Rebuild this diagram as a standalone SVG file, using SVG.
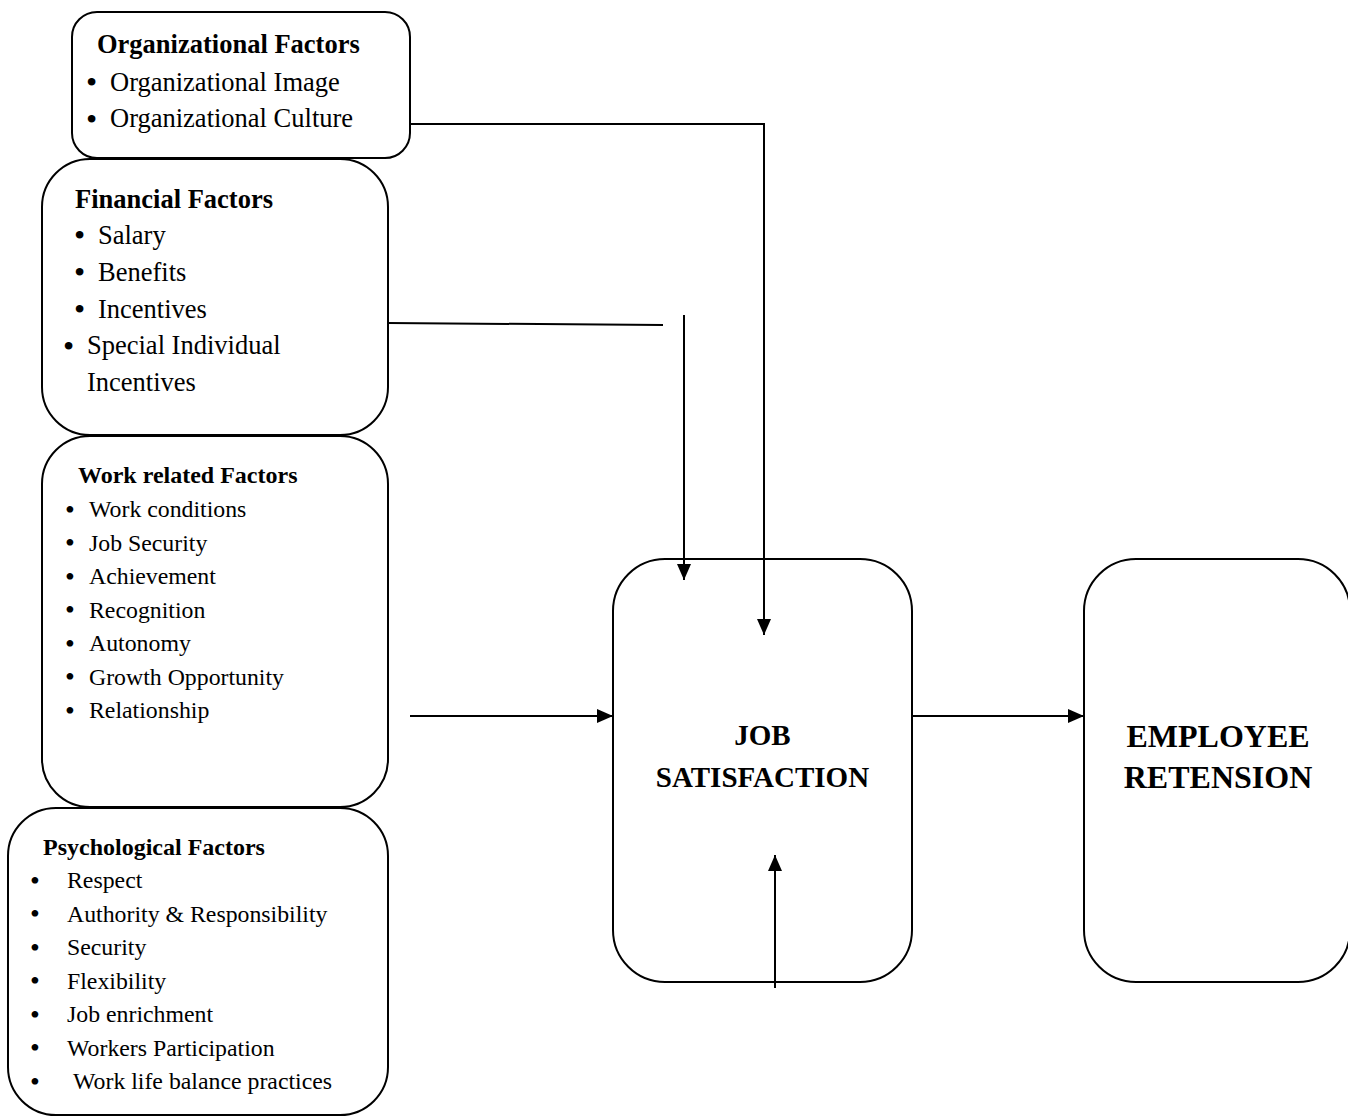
<svg xmlns="http://www.w3.org/2000/svg" width="1348" height="1117" viewBox="0 0 1348 1117">
<style>
.box{fill:#fff;stroke:#000;stroke-width:2}
.ln{fill:none;stroke:#000;stroke-width:2}
text{font-family:"Liberation Serif","Times New Roman",serif;fill:#000}
.h1{font-size:26.5px;font-weight:bold}
.t1{font-size:26.5px}
.b1{font-size:32px}
.h2{font-size:24px;font-weight:bold}
.t2{font-size:23.8px}
.b2{font-size:28px}
.big{font-size:29px;font-weight:bold;text-anchor:middle}
.big2{font-size:32px;font-weight:bold;text-anchor:middle}
</style>
<defs>
<marker id="ah" markerWidth="16" markerHeight="14" refX="16" refY="7" orient="auto" markerUnits="userSpaceOnUse">
<path d="M0,0 L16,7 L0,14 Z" fill="#000"/>
</marker>
</defs>
<rect width="1348" height="1117" fill="#fff"/>

<g id="org">
<rect class="box" x="72" y="12" width="338" height="146" rx="25"/>
<text class="h1" x="97" y="53">Organizational Factors</text>
<text class="b1" x="86" y="93">•</text><text class="t1" x="110" y="91">Organizational Image</text>
<text class="b1" x="86" y="130">•</text><text class="t1" x="110" y="127">Organizational Culture</text>
</g>

<g id="financial">
<rect class="box" x="42" y="159" width="346" height="276" rx="48"/>
<text class="h1" x="75" y="208">Financial Factors</text>
<text class="b1" x="74" y="246">•</text><text class="t1" x="98" y="244">Salary</text>
<text class="b1" x="74" y="283">•</text><text class="t1" x="98" y="281">Benefits</text>
<text class="b1" x="74" y="320">•</text><text class="t1" x="98" y="318">Incentives</text>
<text class="b1" x="63" y="357">•</text><text class="t1" x="87" y="354">Special Individual</text>
<text class="t1" x="87" y="391">Incentives</text>
</g>

<g id="work">
<rect class="box" x="42" y="436" width="346" height="371" rx="48"/>
<text class="h2" x="78" y="483">Work related Factors</text>
<text class="b2" x="65" y="518.5">•</text><text class="t2" x="89" y="517">Work conditions</text>
<text class="b2" x="65" y="552">•</text><text class="t2" x="89" y="550.5">Job Security</text>
<text class="b2" x="65" y="585.5">•</text><text class="t2" x="89" y="584">Achievement</text>
<text class="b2" x="65" y="619">•</text><text class="t2" x="89" y="617.5">Recognition</text>
<text class="b2" x="65" y="652.5">•</text><text class="t2" x="89" y="651">Autonomy</text>
<text class="b2" x="65" y="686">•</text><text class="t2" x="89" y="684.5">Growth Opportunity</text>
<text class="b2" x="65" y="719.5">•</text><text class="t2" x="89" y="718">Relationship</text>
</g>

<g id="psych">
<rect class="box" x="8" y="808" width="380" height="307" rx="48"/>
<text class="h2" x="43" y="855">Psychological Factors</text>
<text class="b2" x="30" y="889.5">•</text><text class="t2" x="67" y="888">Respect</text>
<text class="b2" x="30" y="923">•</text><text class="t2" x="67" y="921.5">Authority &amp; Responsibility</text>
<text class="b2" x="30" y="956.5">•</text><text class="t2" x="67" y="955">Security</text>
<text class="b2" x="30" y="990">•</text><text class="t2" x="67" y="988.5">Flexibility</text>
<text class="b2" x="30" y="1023.5">•</text><text class="t2" x="67" y="1022">Job enrichment</text>
<text class="b2" x="30" y="1057">•</text><text class="t2" x="67" y="1055.5">Workers Participation</text>
<text class="b2" x="30" y="1090.5">•</text><text class="t2" x="73" y="1089">Work life balance practices</text>
</g>

<g id="job">
<rect class="box" x="613" y="559" width="299" height="423" rx="52"/>
<text class="big" x="762.5" y="745">JOB</text>
<text class="big" x="762.5" y="787">SATISFACTION</text>
</g>

<g id="retention">
<rect class="box" x="1084" y="559" width="266" height="423" rx="52"/>
<text class="big2" x="1218" y="747">EMPLOYEE</text>
<text class="big2" x="1218" y="788">RETENSION</text>
</g>

<g id="connectors">
<polyline class="ln" points="410,124 764,124 764,635" marker-end="url(#ah)"/>
<line class="ln" x1="388" y1="323" x2="663" y2="325"/>
<line class="ln" x1="684" y1="315" x2="684" y2="580" marker-end="url(#ah)"/>
<line class="ln" x1="410" y1="716" x2="613" y2="716" marker-end="url(#ah)"/>
<line class="ln" x1="912" y1="716" x2="1084" y2="716" marker-end="url(#ah)"/>
<line class="ln" x1="775" y1="988" x2="775" y2="855" marker-end="url(#ah)"/>
</g>
</svg>
